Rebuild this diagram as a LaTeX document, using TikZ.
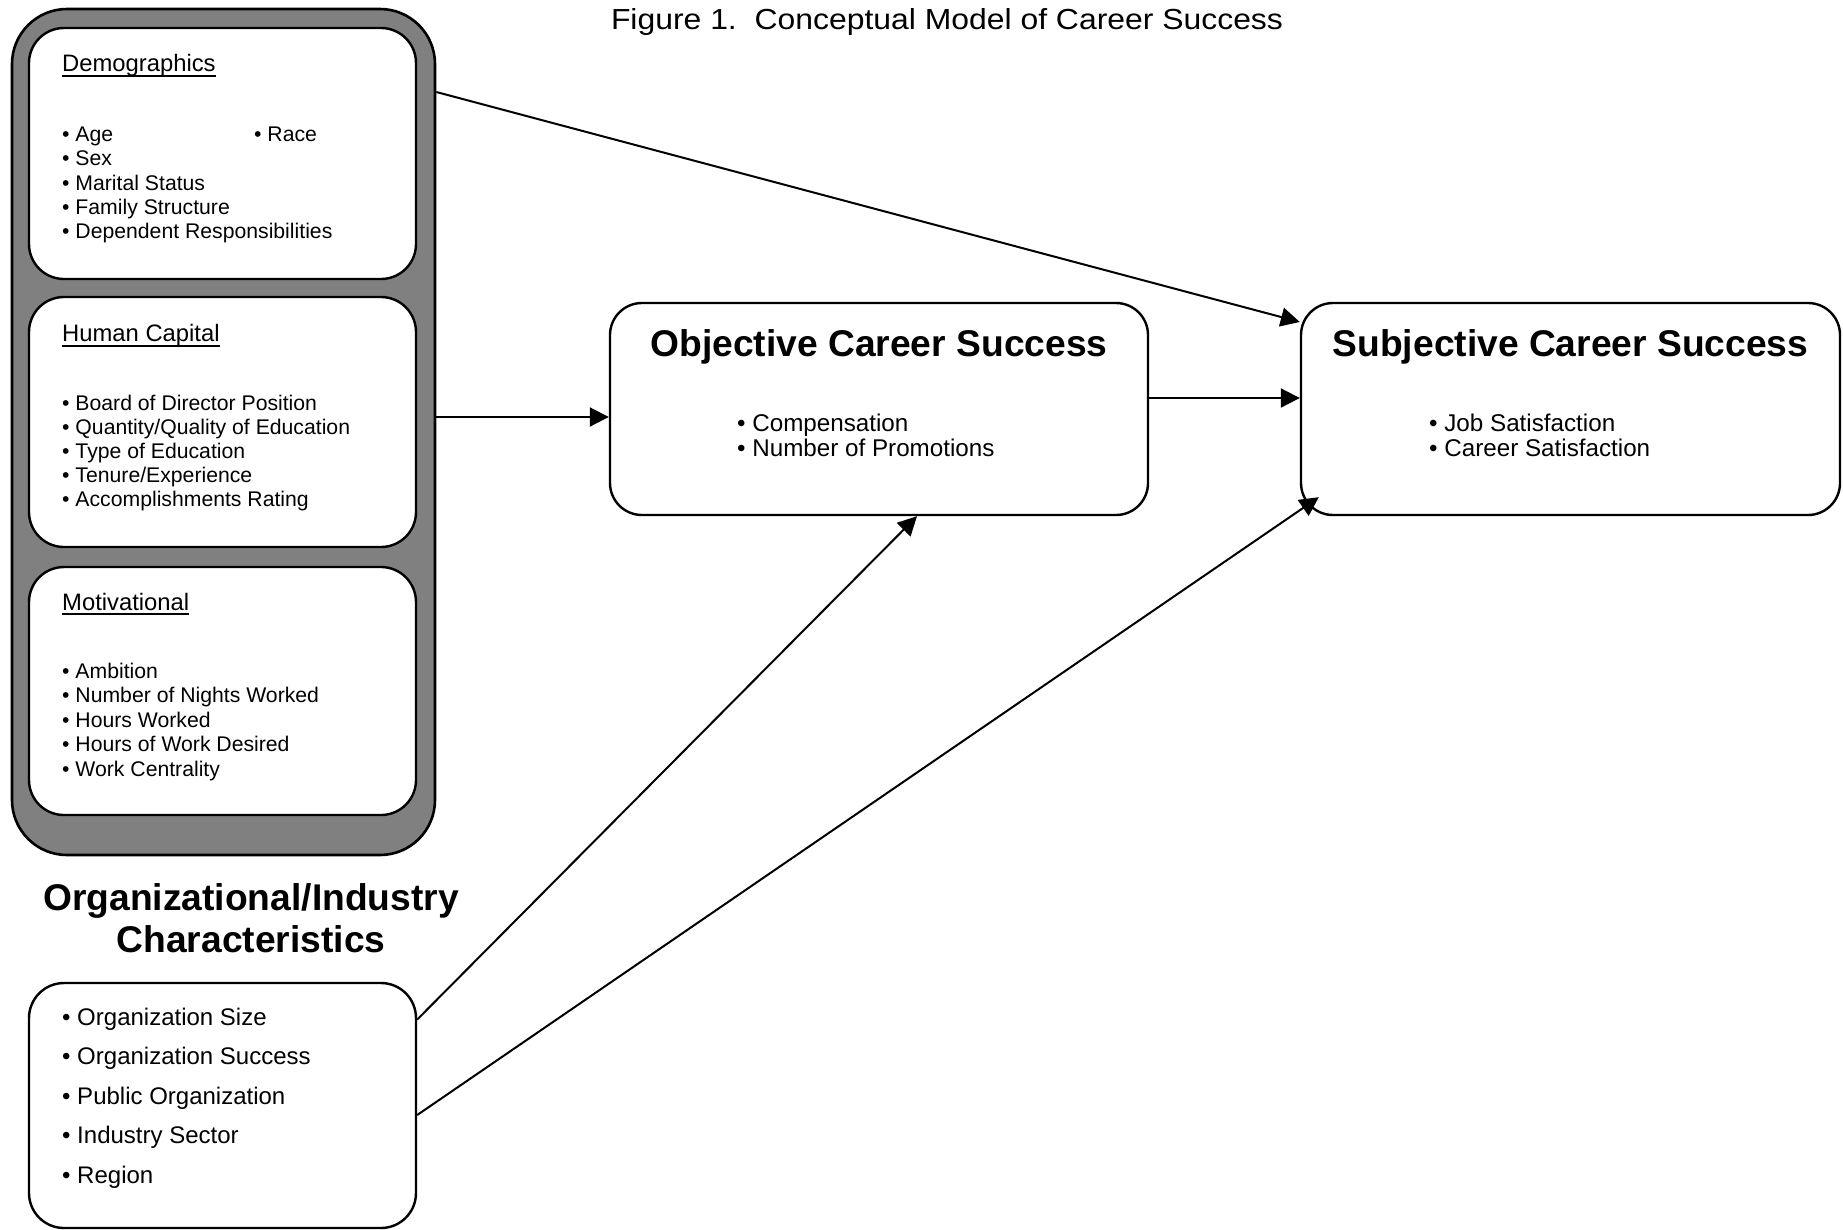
\documentclass[tikz,border=0pt]{standalone}
\usepackage{fontspec}
\setmainfont{Liberation Sans}
\newfontfamily\figtitlefont[FakeStretch=1.1]{Liberation Sans}
\newcommand{\ulhead}[1]{\setbox0\hbox{#1}\rlap{\rule[-5.2pt]{\wd0}{1.8pt}}\box0}
\usetikzlibrary{arrows.meta}

\tikzset{
  groupbox/.style={draw, line width=2.6pt, fill=gray, rounded corners=55pt, inner sep=0pt},
  factorbox/.style={draw, line width=2.4pt, fill=white, rounded corners=35pt, inner sep=0pt, minimum width=387pt},
  outcomebox/.style={draw, line width=2.4pt, fill=white, rounded corners=32pt, inner sep=0pt, minimum width=538pt, minimum height=212pt},
  boxhead/.style={anchor=base west, inner sep=0pt, font=\fontsize{23.8}{28}\selectfont},
  itemtext/.style={anchor=base west, inner sep=0pt, font=\fontsize{21.2}{24}\selectfont},
  orgitem/.style={anchor=base west, inner sep=0pt, font=\fontsize{24}{28}\selectfont},
  outcomeitem/.style={anchor=base west, inner sep=0pt, font=\fontsize{24.2}{28}\selectfont},
  bigtitle/.style={anchor=base, inner sep=0pt, font=\bfseries\fontsize{37.2}{42}\selectfont},
  link/.style={line width=2pt, -{Triangle[length=19pt,width=19pt]}}
}

\begin{document}
\begin{tikzpicture}[x=1pt, y=-1pt]
    \useasboundingbox (0,0) rectangle (1843,1229);

    % Figure caption
    \node[anchor=base, inner sep=0pt, font=\figtitlefont\fontsize{29}{34}\selectfont] (figtitle) at (947,29)
        {Figure 1.\ \ Conceptual Model of Career Success};

    % Grey group with the three individual factor boxes
    \node[groupbox, minimum width=423pt, minimum height=846pt] (group) at (223.5,432) {};
    \node[factorbox, minimum height=251pt] (demo) at (222.5,153.5) {};
    \node[factorbox, minimum height=250pt] (human) at (222.5,422) {};
    \node[factorbox, minimum height=248pt] (motiv) at (222.5,691) {};

    % Demographics
    \node[boxhead] (demohead) at (62,71.7) {\ulhead{Demographics}};
    \foreach \txt [count=\i from 0] in {Age, Sex, Marital Status, Family Structure, Dependent Responsibilities} {
        \node[itemtext] (demo-\i) at (62,{141.7+24.2*\i}) {\textbullet\ \txt};
    }
    \node[itemtext] (race) at (254,141.7) {\textbullet\ Race};

    % Human capital
    \node[boxhead] (humanhead) at (62,341.7) {\ulhead{Human Capital}};
    \foreach \txt [count=\i from 0] in {Board of Director Position, Quantity/Quality of Education, Type of Education, Tenure/Experience, Accomplishments Rating} {
        \node[itemtext] (human-\i) at (62,{410+24.2*\i}) {\textbullet\ \txt};
    }

    % Motivational
    \node[boxhead] (motivhead) at (62,610) {\ulhead{Motivational}};
    \foreach \txt [count=\i from 0] in {Ambition, Number of Nights Worked, Hours Worked, Hours of Work Desired, Work Centrality} {
        \node[itemtext] (motiv-\i) at (62,{678+24.5*\i}) {\textbullet\ \txt};
    }

    % Organizational/industry characteristics
    \node[bigtitle] (orgtitle-a) at (251,910) {Organizational/Industry};
    \node[bigtitle] (orgtitle-b) at (251,952) {Characteristics};
    \node[factorbox, minimum height=245pt] (org) at (222.5,1105.5) {};
    \foreach \txt [count=\i from 0] in {Organization Size, Organization Success, Public Organization, Industry Sector, Region} {
        \node[orgitem] (org-\i) at (62,{1025+39.5*\i}) {\textbullet\ \txt};
    }

    % Outcomes
    \node[outcomebox] (obj) at (879,409) {};
    \node[bigtitle] (objtitle) at (879,356) {Objective Career Success};
    \node[outcomeitem] (obj-0) at (737,431.7) {\textbullet\ Compensation};
    \node[outcomeitem] (obj-1) at (737,456.7) {\textbullet\ Number of Promotions};

    \node[outcomebox, minimum width=539pt] (subj) at (1570.5,409) {};
    \node[bigtitle] (subjtitle) at (1570.5,356) {Subjective Career Success};
    \node[outcomeitem] (subj-0) at (1429,431.7) {\textbullet\ Job Satisfaction};
    \node[outcomeitem] (subj-1) at (1429,456.7) {\textbullet\ Career Satisfaction};

    % Paths
    \draw[link] ([yshift=340pt]group.east) -- ([yshift=87pt]subj.west);
    \draw[link] ([yshift=15pt]group.east) -- ([yshift=-8pt]obj.west);
    \draw[link] ([yshift=11pt]obj.east) -- ([yshift=11pt]subj.west);
    \draw[link] ([yshift=86pt]org.east) -- ([xshift=38pt]obj.south);
    \draw[link] ([yshift=-9.5pt]org.east) -- ([shift={(19pt,19pt)}]subj.south west);

\end{tikzpicture}
\end{document}
